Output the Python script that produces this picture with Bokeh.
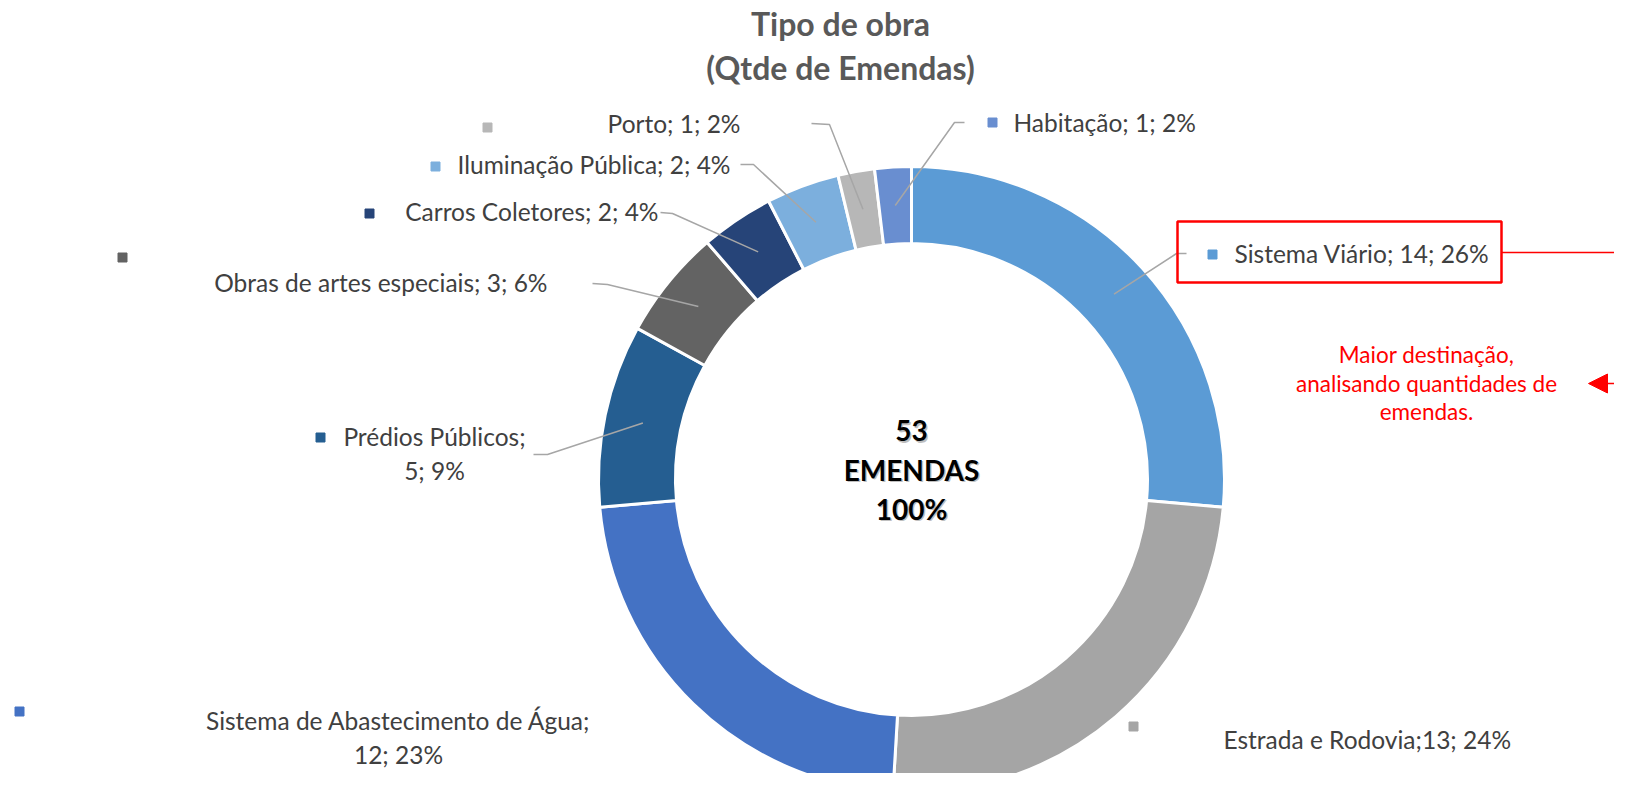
import math
from bokeh.plotting import figure
from bokeh.models import Range1d, Arrow, NormalHead, ColumnDataSource
from bokeh.core.properties import value
from bokeh.embed import file_html
from bokeh.resources import INLINE

# ---------------- data ----------------
categories = ["Sistema Viário", "Estrada e Rodovia", "Sistema de Abastecimento de Água",
              "Prédios Públicos", "Obras de artes especiais", "Carros Coletores",
              "Iluminação Pública", "Porto", "Habitação"]
counts = [14, 13, 12, 5, 3, 2, 2, 1, 1]
percents = [26, 24, 23, 9, 6, 4, 4, 2, 2]
colors = ["#5B9BD5", "#A5A5A5", "#4472C4", "#255E91", "#636363",
          "#264478", "#7CAFDD", "#B7B7B7", "#698ED0"]
title_lines = ["Tipo de obra", "(Qtde de Emendas)"]
center_lines = ["53", "EMENDAS", "100%"]
note_lines = ["Maior destinação,", "analisando quantidades de", "emendas."]

# ---------------- layout (screen pixels) ----------------
W, H = 1630, 789
def Y(sy):
    return H - sy

CX, CY = 911, 479
R_OUT, R_IN = 313, 236
FONT = "Lato"
LABEL_DY = -3

label_anchor = [(1234, 256, "left"), (1223, 742, "left"), (398, 723, "center"),
                (434, 439, "center"), (547, 285, "right"), (658, 214, "right"),
                (730, 167, "right"), (740, 126, "right"), (1013, 125, "left")]
label_wrap = [False, False, True, True, False, False, False, False, False]
label_sep = ["; ", ";", "; ", "; ", "; ", "; ", "; ", "; ", "; "]
marker_pos = [(1212, 254), (1133, 726), (19, 711), (320, 437), (122, 257),
              (369, 213), (435, 166), (487, 127), (992, 122)]
leader_start = [[(1186, 253), (1176, 253)], None, None,
                [(533, 454), (547, 454)], [(592, 283), (607, 284)],
                [(660, 212), (672, 213)], [(740, 164), (753, 164)],
                [(811, 123), (829, 124)], [(964, 122), (954, 122)]]

p = figure(width=1614, height=773, x_range=Range1d(0, 1614), y_range=Range1d(16, 789),
           x_axis_type=None, y_axis_type=None, toolbar_location=None,
           output_backend="svg", min_border=0, outline_line_color=None,
           background_fill_color="white", border_fill_color="white")
p.grid.visible = False

# ---------------- donut ----------------
total = sum(counts)
starts, ends, mids = [], [], []
cum = 0
for c in counts:
    a0 = math.pi / 2 - 2 * math.pi * cum / total
    cum += c
    a1 = math.pi / 2 - 2 * math.pi * cum / total
    starts.append(a0)
    ends.append(a1)
    mids.append((a0 + a1) / 2)

src = ColumnDataSource(dict(start=starts, end=ends, color=colors, cat=categories))
p.annular_wedge(x=CX, y=Y(CY), inner_radius=R_IN, outer_radius=R_OUT,
                start_angle="start", end_angle="end", direction="clock",
                fill_color="color", line_color="white", line_width=3, source=src)

# ---------------- leader lines ----------------
R_MID = (R_IN + R_OUT) / 2
for i, pts in enumerate(leader_start):
    if pts is None:
        continue
    ex = CX + R_MID * math.cos(mids[i])
    ey = Y(CY) + R_MID * math.sin(mids[i])
    xs = [q[0] for q in pts] + [ex]
    ys = [Y(q[1]) for q in pts] + [ey]
    p.line(xs, ys, line_color="#A6A6A6", line_width=1.5)

# ---------------- markers ----------------
p.scatter([m[0] for m in marker_pos], [Y(m[1]) for m in marker_pos], marker="square",
          size=9, fill_color=colors, line_color=colors)

# ---------------- labels ----------------
LINE_H = 34
for i, cat in enumerate(categories):
    x, y, align = label_anchor[i]
    if label_wrap[i]:
        lines = [f"{cat};", f"{counts[i]}; {percents[i]}%"]
    else:
        lines = [f"{cat}{label_sep[i]}{counts[i]}; {percents[i]}%"]
    for k, t in enumerate(lines):
        p.text(x=[x], y=[Y(y + LABEL_DY + k * LINE_H)], text=[t], text_align=align,
               text_baseline="middle", text_font=value(FONT), text_font_size="24.5px",
               text_color="#404040")

# red highlight box and connector for the largest slice
p.quad(left=[1177], right=[1501], bottom=[Y(282)], top=[Y(221)], fill_color=None,
       line_color="#FF0000", line_width=2.5)
p.line([1501, 1640], [Y(252), Y(252)], line_color="#FF0000", line_width=1.5)

# red note with arrow
for k, t in enumerate(note_lines):
    p.text(x=[1426], y=[Y(354 + k * 28.5)], text=[t], text_align="center",
           text_baseline="middle", text_font=value(FONT), text_font_size="22.5px",
           text_color="#FF0000")
p.add_layout(Arrow(end=NormalHead(size=19, fill_color="#FF0000", line_color="#FF0000"),
                   x_start=1640, y_start=Y(383), x_end=1588, y_end=Y(383),
                   line_color="#FF0000", line_width=1.5))

# ---------------- center text ----------------
for k, t in enumerate(center_lines):
    yy = Y(430 + k * 39)
    p.text(x=[911 + 1.5], y=[yy - 1.5], text=[t], text_align="center",
           text_baseline="middle", text_font=value(FONT), text_font_size="28px",
           text_font_style="bold", text_color="#000000", text_alpha=0.25)
    p.text(x=[911], y=[yy], text=[t], text_align="center", text_baseline="middle",
           text_font=value(FONT), text_font_size="28px", text_font_style="bold",
           text_color="#000000")

# ---------------- title ----------------
for k, t in enumerate(title_lines):
    p.text(x=[840], y=[Y(23 + k * 44)], text=[t], text_align="center",
           text_baseline="middle", text_font=value(FONT), text_font_size="32px",
           text_font_style="bold", text_color="#595959")

open("out.html", "w").write(file_html(p, INLINE))
